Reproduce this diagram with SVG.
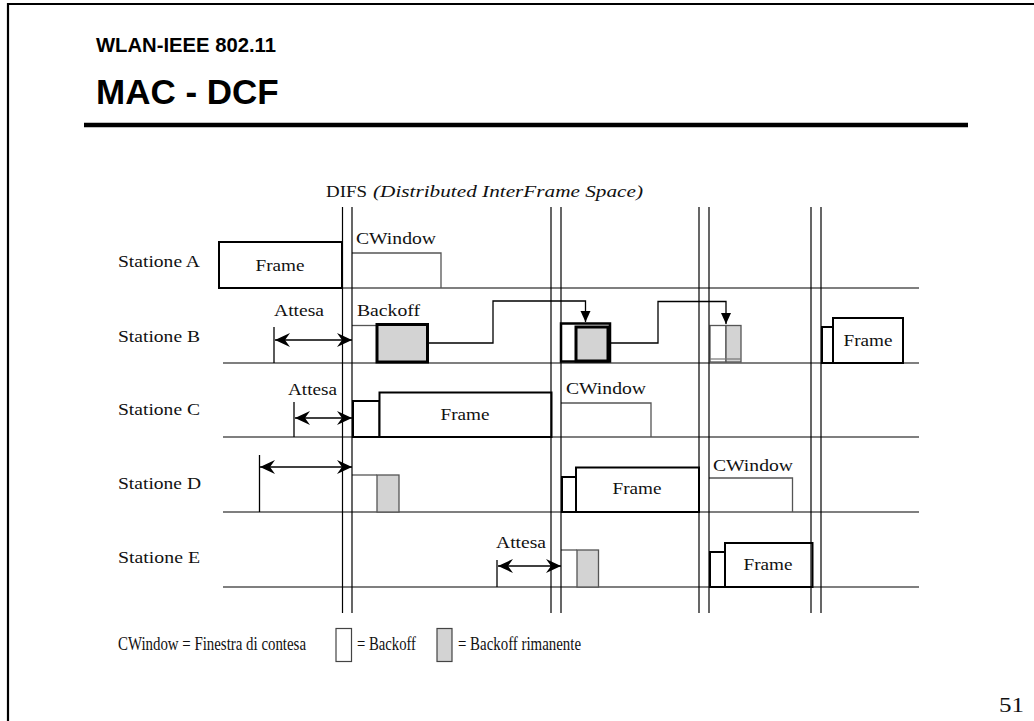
<svg xmlns="http://www.w3.org/2000/svg" width="1034" height="721" viewBox="0 0 1034 721">
<style>
.t{font-family:"Liberation Serif","Times New Roman",serif;font-size:17px;fill:#111}
.lg{font-family:"Liberation Serif","Times New Roman",serif;font-size:18px;fill:#111}
.ti{font-family:"Liberation Serif","Times New Roman",serif;font-size:17px;font-style:italic;fill:#111}
.h{font-family:"Liberation Sans",Arial,sans-serif;font-weight:bold;fill:#000}
.st{stroke:#555;stroke-width:1.5;fill:none}
.v{stroke:#000;stroke-width:1.2;fill:none}
.fr{fill:#fff;stroke:#000;stroke-width:2}
.cw{stroke:#555;stroke-width:1.3;fill:none}
.bo{fill:#fff;stroke:#555;stroke-width:1.3}
.br{fill:#d3d3d3;stroke:#555;stroke-width:1.3}
.bk{fill:#d3d3d3;stroke:#000;stroke-width:3}
.ar{stroke:#000;stroke-width:1.3;fill:none}
.cn{stroke:#000;stroke-width:1.3;fill:none}
</style>
<defs>
<marker id="dh" markerUnits="userSpaceOnUse" markerWidth="18" markerHeight="16" refX="16" refY="8" orient="auto-start-reverse" viewBox="0 0 18 16">
<path d="M16,8 L1,1 L6,8 L1,15 Z" fill="#000"/>
</marker>
<marker id="th" markerUnits="userSpaceOnUse" markerWidth="12" markerHeight="12" refX="11" refY="6" orient="auto" viewBox="0 0 12 12">
<path d="M11,6 L0,1 L0,11 Z" fill="#000"/>
</marker>
</defs>
<rect width="1034" height="721" fill="#fff"/>
<g id="frame">
<path d="M8,721 V4 H1034" stroke="#000" stroke-width="2.2" fill="none"/>
</g>
<g id="title">
<text class="h" x="96" y="52" font-size="20" textLength="180" lengthAdjust="spacingAndGlyphs">WLAN-IEEE 802.11</text>
<text class="h" x="96" y="104" font-size="35">MAC - DCF</text>
<line x1="84" y1="125" x2="968" y2="125" stroke="#000" stroke-width="4.5"/>
</g>
<g id="difs-label">
<text class="t" x="326" y="197" textLength="41" lengthAdjust="spacingAndGlyphs">DIFS</text>
<text class="ti" x="373" y="197" textLength="270" lengthAdjust="spacingAndGlyphs">(Distributed InterFrame Space)</text>
</g>
<g id="station-lines">
<line class="st" x1="218" y1="288" x2="919" y2="288"/>
<line class="st" x1="223" y1="363" x2="919" y2="363"/>
<line class="st" x1="223" y1="437" x2="919" y2="437"/>
<line class="st" x1="223" y1="512" x2="919" y2="512"/>
<line class="st" x1="223" y1="587" x2="919" y2="587"/>
</g>
<g id="station-labels">
<text class="t" x="118" y="267" textLength="82" lengthAdjust="spacingAndGlyphs">Statione A</text>
<text class="t" x="118" y="342" textLength="82" lengthAdjust="spacingAndGlyphs">Statione B</text>
<text class="t" x="118" y="415" textLength="82" lengthAdjust="spacingAndGlyphs">Statione C</text>
<text class="t" x="118" y="489" textLength="83" lengthAdjust="spacingAndGlyphs">Statione D</text>
<text class="t" x="118" y="563" textLength="82" lengthAdjust="spacingAndGlyphs">Statione E</text>
</g>
<g id="station-a">
<rect class="fr" x="219" y="242" width="123" height="46"/>
<text class="t" x="280" y="271" text-anchor="middle" textLength="49" lengthAdjust="spacingAndGlyphs">Frame</text>
<path class="cw" d="M352,253 H441 V288"/>
<text class="t" x="356" y="244" textLength="80" lengthAdjust="spacingAndGlyphs">CWindow</text>
</g>
<g id="station-b">
<text class="t" x="274" y="316" textLength="50" lengthAdjust="spacingAndGlyphs">Attesa</text>
<text class="t" x="357" y="316" textLength="63" lengthAdjust="spacingAndGlyphs">Backoff</text>
<line class="ar" x1="274" y1="327" x2="274" y2="363"/>
<line class="ar" x1="275" y1="340" x2="352" y2="340" marker-start="url(#dh)" marker-end="url(#dh)"/>
<path class="bo" d="M352,325.5 H377"/>
<rect class="bk" x="377" y="324.5" width="50.5" height="37.5"/>
<rect x="561" y="323.5" width="49" height="38" fill="#fff" stroke="#000" stroke-width="2.5"/>
<rect class="bk" x="576" y="327" width="32" height="34"/>
<rect x="710" y="325.5" width="16" height="36.5" fill="#fff" stroke="#555" stroke-width="1.3"/>
<rect x="726" y="325.5" width="15" height="36.5" fill="#d3d3d3" stroke="#555" stroke-width="1.3"/>
<line x1="710" y1="359" x2="741" y2="359" stroke="#777" stroke-width="1.2"/>
<rect class="fr" x="822" y="327" width="11" height="36"/>
<rect class="fr" x="833" y="318" width="70" height="45"/>
<text class="t" x="868" y="346" text-anchor="middle" textLength="49" lengthAdjust="spacingAndGlyphs">Frame</text>
</g>
<g id="station-c">
<text class="t" x="288" y="395" textLength="49" lengthAdjust="spacingAndGlyphs">Attesa</text>
<line class="ar" x1="294" y1="402" x2="294" y2="437"/>
<line class="ar" x1="295" y1="418" x2="352" y2="418" marker-start="url(#dh)" marker-end="url(#dh)"/>
<rect class="fr" x="353" y="401" width="26.5" height="36"/>
<rect class="fr" x="379.5" y="392.5" width="172" height="44.5"/>
<text class="t" x="465" y="420" text-anchor="middle" textLength="49" lengthAdjust="spacingAndGlyphs">Frame</text>
<path class="cw" d="M561,403 H651 V437"/>
<text class="t" x="566" y="394" textLength="80" lengthAdjust="spacingAndGlyphs">CWindow</text>
</g>
<g id="station-d">
<line class="ar" x1="259.5" y1="455" x2="259.5" y2="512"/>
<line class="ar" x1="260" y1="467" x2="352" y2="467" marker-start="url(#dh)" marker-end="url(#dh)"/>
<path class="cw" d="M352,475 H377"/>
<rect class="br" x="377" y="475" width="22" height="37"/>
<rect class="fr" x="562" y="477" width="14" height="35"/>
<rect class="fr" x="576" y="467.5" width="123" height="44.5"/>
<text class="t" x="637" y="494" text-anchor="middle" textLength="49" lengthAdjust="spacingAndGlyphs">Frame</text>
<path class="cw" d="M709,478 H792.5 V512"/>
<text class="t" x="713" y="471" textLength="80" lengthAdjust="spacingAndGlyphs">CWindow</text>
</g>
<g id="station-e">
<text class="t" x="496" y="548" textLength="50" lengthAdjust="spacingAndGlyphs">Attesa</text>
<line class="ar" x1="497" y1="560" x2="497" y2="587"/>
<line class="ar" x1="498" y1="566" x2="561" y2="566" marker-start="url(#dh)" marker-end="url(#dh)"/>
<path class="cw" d="M561,550 H577"/>
<rect class="br" x="577" y="550" width="21.5" height="37"/>
<rect class="fr" x="710" y="552" width="15" height="35"/>
<rect class="fr" x="725" y="543" width="87.5" height="44"/>
<text class="t" x="768" y="570" text-anchor="middle" textLength="49" lengthAdjust="spacingAndGlyphs">Frame</text>
</g>
<g id="connectors">
<line class="v" x1="342.5" y1="207" x2="342.5" y2="613"/>
<line class="v" x1="352" y1="207" x2="352" y2="613"/>
<line class="v" x1="551" y1="207" x2="551" y2="613"/>
<line class="v" x1="561" y1="207" x2="561" y2="613"/>
<line class="v" x1="699" y1="207" x2="699" y2="613"/>
<line class="v" x1="709" y1="207" x2="709" y2="613"/>
<line class="v" x1="811" y1="207" x2="811" y2="613"/>
<line class="v" x1="821" y1="207" x2="821" y2="613"/>
<path class="cn" d="M429,343 H493 V301 H585.5 V322" marker-end="url(#th)"/>
<path class="cn" d="M611,343 H658 V301.5 H726 V324" marker-end="url(#th)"/>
</g>
<g id="legend">
<text class="lg" x="118" y="650" textLength="188" lengthAdjust="spacingAndGlyphs">CWindow = Finestra di contesa</text>
<rect x="336" y="628.5" width="15.5" height="33" fill="#fff" stroke="#444" stroke-width="1.2"/>
<text class="lg" x="357" y="650" textLength="59" lengthAdjust="spacingAndGlyphs">= Backoff</text>
<rect x="437" y="628.5" width="15" height="33" fill="#d3d3d3" stroke="#444" stroke-width="1.2"/>
<text class="lg" x="458" y="650" textLength="123" lengthAdjust="spacingAndGlyphs">= Backoff rimanente</text>
</g>
<g id="page-number">
<text class="t" x="999" y="712" style="font-size:22px" textLength="25" lengthAdjust="spacingAndGlyphs">51</text>
</g>
</svg>
